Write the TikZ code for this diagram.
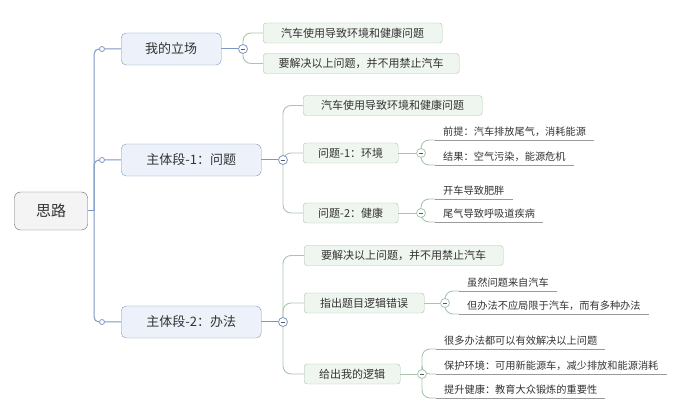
\documentclass[tikz,border=0pt]{standalone}
\usepackage{fontspec}
\setmainfont{Noto Sans CJK SC}
\usetikzlibrary{backgrounds}

\definecolor{trunkblue}{HTML}{7B97C2}
\definecolor{mainfill}{HTML}{EDF2FA}
\definecolor{subgreen}{HTML}{A9C6AD}
\definecolor{subfill}{HTML}{EFF5EF}
\definecolor{rootfill}{HTML}{F4F4F4}
\definecolor{leafline}{HTML}{9A9A9A}
\definecolor{txt}{HTML}{333333}

\tikzset{
  rootbox/.style={draw=black!60, fill=rootfill, rounded corners=6pt, minimum width=73pt, minimum height=38pt, font=\fontsize{15}{15}\selectfont, text=txt},
  mainbox/.style={draw=trunkblue, fill=mainfill, rounded corners=5pt, minimum height=32pt, font=\fontsize{13}{13}\selectfont, text=txt, anchor=west},
  subbox/.style={draw=subgreen, fill=subfill, rounded corners=3pt, minimum height=20pt, font=\fontsize{11}{11}\selectfont, text=txt, anchor=west},
  leaf/.style={anchor=south west, inner xsep=8pt, inner ysep=3pt, font=\fontsize{10.2}{10.2}\selectfont, text=txt},
  fold/.style={circle, draw=#1, fill=white, line width=0.8pt, inner sep=0pt, minimum size=9pt,
    path picture={\draw[black!65, line width=0.8pt] ([xshift=-2.3pt]path picture bounding box.center) -- ([xshift=2.3pt]path picture bounding box.center);}},
  joint/.style={circle, draw=trunkblue, fill=white, line width=0.8pt, inner sep=0pt, minimum size=5pt},
  trunk/.style={draw=trunkblue, line width=1pt, rounded corners=5pt},
  twig/.style={draw=subgreen, line width=0.9pt, rounded corners=8pt},
  uline/.style={draw=leafline, line width=0.7pt}
}

\begin{document}
\begin{tikzpicture}[x=1pt, y=-1pt]
  \useasboundingbox (0,0) rectangle (681,414);

  % Draw the root and the three main boxes
  \node[rootbox] (root) at (51,211) {思路};
  \node[mainbox, minimum width=100pt] (stand) at (121,49) {我的立场};
  \node[mainbox, minimum width=140pt] (body1) at (121,160) {主体段-1：问题};
  \node[mainbox, minimum width=140pt] (body2) at (121,322) {主体段-2：办法};

  \coordinate (t) at (94,211);
  \node[joint] (j1) at (102,49) {};
  \node[joint] (j2) at (102,160) {};
  \node[joint] (j3) at (102,322) {};

  % Draw the fold circles
  \node[fold=trunkblue] (fs) at (243,49) {};
  \node[fold=trunkblue] (f1) at (283,160) {};
  \node[fold=trunkblue] (f2) at (283,322) {};

  % Draw the boxes of the second level
  \node[subbox, minimum width=179pt] (s1) at (263,33) {汽车使用导致环境和健康问题};
  \node[subbox, minimum width=196pt] (s2) at (263,63.5) {要解决以上问题，并不用禁止汽车};

  \node[subbox, minimum width=179pt] (p1) at (303,105.5) {汽车使用导致环境和健康问题};
  \node[subbox, minimum width=95pt] (p2) at (303,153) {问题-1：环境};
  \node[subbox, minimum width=95pt] (p3) at (303,213) {问题-2：健康};

  \node[subbox, minimum width=199pt] (w1) at (304,255.5) {要解决以上问题，并不用禁止汽车};
  \node[subbox, minimum width=120pt] (w2) at (304,303) {指出题目逻辑错误};
  \node[subbox, minimum width=96pt] (w3) at (304,374) {给出我的逻辑};

  \node[fold=subgreen] (fp2) at (421,153) {};
  \node[fold=subgreen] (fp3) at (421,213) {};
  \node[fold=subgreen] (fw2) at (445,303) {};
  \node[fold=subgreen] (fw3) at (422,374) {};

  % Draw the leaves
  \node[leaf] (e1) at (435,140) {前提：汽车排放尾气，消耗能源};
  \node[leaf] (e2) at (435,165) {结果：空气污染，能源危机};
  \node[leaf] (e3) at (435,199) {开车导致肥胖};
  \node[leaf] (e4) at (435,222) {尾气导致呼吸道疾病};
  \node[leaf] (h1) at (459,291) {虽然问题来自汽车};
  \node[leaf] (h2) at (459,314) {但办法不应局限于汽车，而有多种办法};
  \node[leaf] (k1) at (436,349) {很多办法都可以有效解决以上问题};
  \node[leaf] (k2) at (436,374) {保护环境：可用新能源车，减少排放和能源消耗};
  \node[leaf] (k3) at (436,398) {提升健康：教育大众锻炼的重要性};

  \begin{scope}[on background layer]
    % Draw the trunk from the root
    \draw[trunk] (root.east) -- (t);
    \draw[trunk] (t) |- (j1) -- (stand.west);
    \draw[trunk] (t) |- (j2) -- (body1.west);
    \draw[trunk] (t) |- (j3) -- (body2.west);
    \draw[trunk] (stand.east) -- (fs);
    \draw[trunk] (body1.east) -- (f1);
    \draw[trunk] (body2.east) -- (f2);

    % Draw the twigs to the second level
    \draw[twig] (fs.center) |- (s1.west);
    \draw[twig] (fs.center) |- (s2.west);
    \foreach \n in {p1,p2,p3} \draw[twig] (f1.center) |- (\n.west);
    \foreach \n in {w1,w2,w3} \draw[twig] (f2.center) |- (\n.west);
    \draw[twig] (p2.east) -- (fp2);
    \draw[twig] (p3.east) -- (fp3);
    \draw[twig] (w2.east) -- (fw2);
    \draw[twig] (w3.east) -- (fw3);

    % Draw the twigs to the leaves
    \foreach \n in {e1,e2} \draw[twig] (fp2.center) |- (\n.south west);
    \foreach \n in {e3,e4} \draw[twig] (fp3.center) |- (\n.south west);
    \foreach \n in {h1,h2} \draw[twig] (fw2.center) |- (\n.south west);
    \foreach \n in {k1,k2,k3} \draw[twig] (fw3.center) |- (\n.south west);
    \foreach \n in {e1,e2,e3,e4,h1,h2,k1,k2,k3}
      \draw[uline] (\n.south west) -- (\n.south east);
  \end{scope}
\end{tikzpicture}
\end{document}
